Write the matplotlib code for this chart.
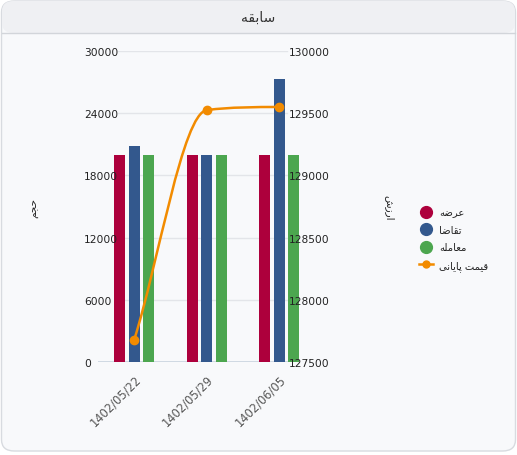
import matplotlib
matplotlib.use("Agg")
import matplotlib.pyplot as plt
import numpy as np
from matplotlib.patches import FancyBboxPatch, PathPatch
from matplotlib.path import Path
from matplotlib.lines import Line2D

# data
dates = ["1402/05/22", "1402/05/29", "1402/06/05"]
supply = [20000, 20000, 20000]      # عرضه
demand = [20800, 20000, 27300]      # تقاضا
trade = [20000, 20000, 20000]       # معامله
close_price = [127680, 129525, 129550]  # قیمت پایانی

left_ticks = [0, 6000, 12000, 18000, 24000, 30000]
right_ticks = [127500, 128000, 128500, 129000, 129500, 130000]

title = "سابقه"
left_title = "حجم"
right_title = "ارزش"
series_names = ["عرضه", "تقاضا", "معامله", "قیمت پایانی"]

c_red = "#ad003c"
c_blue = "#33588d"
c_green = "#4ca64f"
c_orange = "#f28b00"

# arabic shaping (isolated, final, initial, medial)
FORMS = {
    "ا": ("\uFE8D", "\uFE8E", None, None),
    "ب": ("\uFE8F", "\uFE90", "\uFE91", "\uFE92"),
    "ت": ("\uFE95", "\uFE96", "\uFE97", "\uFE98"),
    "ج": ("\uFE9D", "\uFE9E", "\uFE9F", "\uFEA0"),
    "ح": ("\uFEA1", "\uFEA2", "\uFEA3", "\uFEA4"),
    "ر": ("\uFEAD", "\uFEAE", None, None),
    "ز": ("\uFEAF", "\uFEB0", None, None),
    "س": ("\uFEB1", "\uFEB2", "\uFEB3", "\uFEB4"),
    "ش": ("\uFEB5", "\uFEB6", "\uFEB7", "\uFEB8"),
    "ض": ("\uFEBD", "\uFEBE", "\uFEBF", "\uFEC0"),
    "ع": ("\uFEC9", "\uFECA", "\uFECB", "\uFECC"),
    "ق": ("\uFED5", "\uFED6", "\uFED7", "\uFED8"),
    "ل": ("\uFEDD", "\uFEDE", "\uFEDF", "\uFEE0"),
    "م": ("\uFEE1", "\uFEE2", "\uFEE3", "\uFEE4"),
    "ن": ("\uFEE5", "\uFEE6", "\uFEE7", "\uFEE8"),
    "ه": ("\uFEE9", "\uFEEA", "\uFEEB", "\uFEEC"),
    "پ": ("\uFB56", "\uFB57", "\uFB58", "\uFB59"),
    "ی": ("\uFBFC", "\uFBFD", "\uFBFE", "\uFBFF"),
}


def fa(s):
    out = []
    for i, ch in enumerate(s):
        if ch not in FORMS:
            out.append(ch)
            continue
        prev = s[i - 1] if i > 0 else None
        nxt = s[i + 1] if i + 1 < len(s) else None
        p = prev in FORMS and FORMS[prev][2] is not None
        n = FORMS[ch][2] is not None and nxt in FORMS
        iso, fin, ini, med = FORMS[ch]
        if p and n:
            out.append(med)
        elif p:
            out.append(fin)
        elif n:
            out.append(ini)
        else:
            out.append(iso)
    return "".join(out[::-1])


plt.rcParams["font.family"] = ["DejaVu Sans"]

W, H = 517, 456
fig = plt.figure(figsize=(W / 100, H / 100), dpi=100)
fig.patch.set_facecolor("white")

# card
card = FancyBboxPatch((1.5 / W, 4 / H), (W - 3) / W, (H - 6) / H,
                      boxstyle="round,pad=0,rounding_size=0.025",
                      transform=fig.transFigure, facecolor="#f8f9fb",
                      edgecolor="#d8dbe0", linewidth=1, zorder=-3)
fig.patches.append(card)
head = FancyBboxPatch((2 / W, (H - 34) / H), (W - 4) / W, 32 / H,
                      boxstyle="round,pad=0,rounding_size=0.022",
                      transform=fig.transFigure, facecolor="#eff0f3",
                      edgecolor="none", zorder=-2)
fig.patches.append(head)
fig.add_artist(Line2D([2 / W, (W - 2) / W], [(H - 34) / H] * 2,
                      transform=fig.transFigure, color="#d2d5da", lw=1,
                      zorder=-1))
fig.text(258 / W, 1 - 18 / H, fa(title), ha="center", va="center",
         fontsize=10, color="#333333")

# axes
ax = fig.add_axes([98 / W, (H - 363) / H, 217.5 / W, 311 / H])
ax.set_facecolor("none")
ax2 = ax.twinx()
ax.set_zorder(2)
ax2.set_zorder(3)

x = np.arange(len(dates))
bw = 0.152
ax.bar(x - 0.2, supply, bw, color=c_red, zorder=1)
ax.bar(x, demand, bw, color=c_blue, zorder=1)
ax.bar(x + 0.2, trade, bw, color=c_green, zorder=1)
ax.set_xlim(-0.5, len(dates) - 0.5)
ax.set_ylim(left_ticks[0], left_ticks[-1])
ax2.set_ylim(right_ticks[0], right_ticks[-1])

for t in left_ticks[1:]:
    ax.axhline(t, xmin=0.092, xmax=0.87, color="#e3e5e9", lw=1, zorder=0)
ax.axhline(0, xmin=0, xmax=0.885, color="#c9d3df", lw=1.2, zorder=0.5)

for a in (ax, ax2):
    for sp in a.spines.values():
        sp.set_visible(False)

ax.set_yticks(left_ticks)
ax.set_yticklabels([str(t) for t in left_ticks], ha="left")
ax.tick_params(axis="y", length=0, pad=10.2, labelsize=7.7, colors="#222222")
ax2.set_yticks(right_ticks)
ax2.set_yticklabels([str(t) for t in right_ticks], ha="left")
ax2.tick_params(axis="y", length=0, pad=-19.1, labelsize=7.7, colors="#222222")

ax.set_xticks(x)
ax.set_xticklabels(dates, rotation=45, ha="right", va="top",
                   rotation_mode="anchor")
ax.tick_params(axis="x", length=0, pad=7.5, labelsize=8.3, colors="#555555")

# smooth (monotone) line like chart.js
xs = x.astype(float)
ys = np.array(close_price, dtype=float)
d = np.diff(ys) / np.diff(xs)
m = np.empty_like(ys)
m[0], m[-1] = d[0], d[-1]
m[1:-1] = (d[:-1] + d[1:]) / 2
for k in range(len(d)):
    if d[k] == 0:
        m[k] = m[k + 1] = 0
        continue
    a_, b_ = m[k] / d[k], m[k + 1] / d[k]
    sq = a_ ** 2 + b_ ** 2
    if sq > 9:
        tau = 3 / np.sqrt(sq)
        m[k] = a_ * tau * d[k]
        m[k + 1] = b_ * tau * d[k]
verts = [(xs[0], ys[0])]
codes = [Path.MOVETO]
for k in range(len(d)):
    h = (xs[k + 1] - xs[k]) / 3
    verts += [(xs[k] + h, ys[k] + m[k] * h),
              (xs[k + 1] - h, ys[k + 1] - m[k + 1] * h),
              (xs[k + 1], ys[k + 1])]
    codes += [Path.CURVE4] * 3
ax2.add_patch(PathPatch(Path(verts, codes), facecolor="none",
                        edgecolor=c_orange, lw=1.8, zorder=3))
ax2.plot(xs, ys, "o", color=c_orange, markersize=6, zorder=4)

# axis titles
fig.text(34 / W, 1 - 208 / H, fa(left_title), rotation=90, ha="center",
         va="center", fontsize=7.5, color="#222222")
fig.text(389 / W, 1 - 208 / H, fa(right_title), rotation=-90, ha="center",
         va="center", fontsize=7.5, color="#222222")

# legend
handles = [
    Line2D([], [], marker="o", ls="none", markersize=8.5, color=c_red),
    Line2D([], [], marker="o", ls="none", markersize=8.5, color=c_blue),
    Line2D([], [], marker="o", ls="none", markersize=8.5, color=c_green),
    Line2D([], [], marker="o", lw=1.8, markersize=5, color=c_orange),
]
fig.legend(handles, [fa(s) for s in series_names], loc="center left",
           bbox_to_anchor=(414 / W, 1 - 240 / H), frameon=False,
           fontsize=7.2, handlelength=1.4, handletextpad=0.6,
           labelspacing=0.75, borderpad=0, labelcolor="#222222")

fig.savefig("out.png", dpi=100)
